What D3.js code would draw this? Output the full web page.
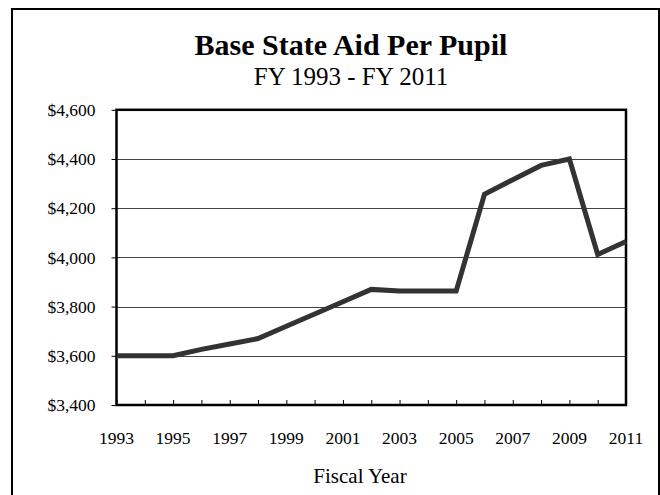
<!DOCTYPE html>
<html>
<head>
<meta charset="utf-8">
<script src="https://cdn.jsdelivr.net/npm/d3@7/dist/d3.min.js"></script>
<style>
  html, body { margin: 0; padding: 0; background: #fff; }
  svg { display: block; }
  text { font-family: "Liberation Serif", "Times New Roman", serif; fill: #000; }
</style>
</head>
<body>
<svg id="chart" width="660" height="495"></svg>
<script>
// Base state aid per pupil, fiscal years 1993-2011
const years = [1993, 1994, 1995, 1996, 1997, 1998, 1999, 2000, 2001, 2002,
               2003, 2004, 2005, 2006, 2007, 2008, 2009, 2010, 2011];
const aid = [3600, 3600, 3600, 3626, 3648, 3670, 3720, 3770, 3820, 3870,
             3863, 3863, 3863, 4257, 4316, 4374, 4400, 4012, 4065];
const yTicks = [3400, 3600, 3800, 4000, 4200, 4400, 4600];
const xLabelYears = [1993, 1995, 1997, 1999, 2001, 2003, 2005, 2007, 2009, 2011];

const svg = d3.select("#chart");

// outer chart frame
svg.append("rect")
  .attr("x", 12).attr("y", 9)
  .attr("width", 647).attr("height", 500)
  .attr("fill", "none").attr("stroke", "#000").attr("stroke-width", 2);

const plot = { left: 116.5, right: 626, top: 109.8, bottom: 405 };

const x = d3.scaleLinear().domain([1993, 2011]).range([plot.left, plot.right]);
const y = d3.scaleLinear().domain([3400, 4600]).range([plot.bottom, plot.top]);

// titles
svg.append("text")
  .attr("x", 351).attr("y", 55)
  .attr("text-anchor", "middle")
  .attr("font-size", 30).attr("font-weight", "bold")
  .text("Base State Aid Per Pupil");
svg.append("text")
  .attr("x", 351).attr("y", 85)
  .attr("text-anchor", "middle")
  .attr("font-size", 25)
  .text("FY 1993 - FY 2011");

// horizontal gridlines
svg.append("g")
  .selectAll("line")
  .data(yTicks.slice(1, -1))
  .join("line")
  .attr("x1", plot.left).attr("x2", plot.right)
  .attr("y1", d => Math.round(y(d)) + 0.5).attr("y2", d => Math.round(y(d)) + 0.5)
  .attr("stroke", "#444").attr("stroke-width", 1);

// y axis (outward ticks, dollar labels)
const yAxis = d3.axisLeft(y)
  .tickValues(yTicks)
  .tickSize(5)
  .tickPadding(16)
  .tickFormat(d => "$" + d3.format(",")(d));
const gy = svg.append("g")
  .attr("transform", `translate(${plot.left},0)`)
  .call(yAxis);
gy.select(".domain").remove();
gy.selectAll("line").attr("stroke", "#000");
gy.selectAll("text")
  .attr("font-family", "Liberation Serif, Times New Roman, serif")
  .attr("font-size", 17.5).attr("fill", "#000");

// x axis: inward yearly ticks, labels every other year
const xAxis = d3.axisBottom(x)
  .tickValues(years)
  .tickSize(-5)
  .tickPadding(0)
  .tickFormat("");
const gx = svg.append("g")
  .attr("transform", `translate(0,${plot.bottom})`)
  .call(xAxis);
gx.select(".domain").remove();
gx.selectAll("line").attr("stroke", "#000");

svg.append("g")
  .selectAll("text")
  .data(xLabelYears)
  .join("text")
  .attr("x", d => x(d))
  .attr("y", 444)
  .attr("text-anchor", "middle")
  .attr("font-size", 17.5)
  .text(d => d);

// axis title
svg.append("text")
  .attr("x", 360).attr("y", 483)
  .attr("text-anchor", "middle")
  .attr("font-size", 21)
  .text("Fiscal Year");

// plot frame
svg.append("rect")
  .attr("x", plot.left).attr("y", plot.top)
  .attr("width", plot.right - plot.left).attr("height", plot.bottom - plot.top)
  .attr("fill", "none").attr("stroke", "#000").attr("stroke-width", 2.5);

// data line
const line = d3.line()
  .x((d, i) => x(years[i]))
  .y(d => y(d));
svg.append("path")
  .datum(aid)
  .attr("d", line)
  .attr("fill", "none")
  .attr("stroke", "#333")
  .attr("stroke-width", 5)
  .attr("stroke-linejoin", "miter");
</script>
</body>
</html>
